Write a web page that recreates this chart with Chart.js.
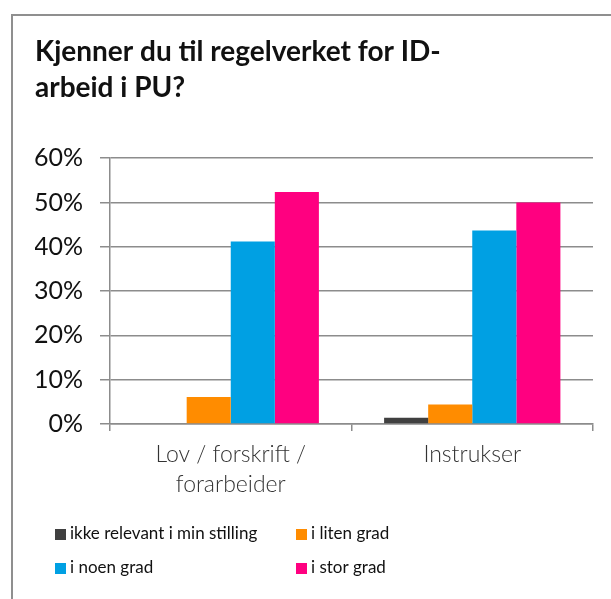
<!DOCTYPE html>
<html>
<head>
<meta charset="utf-8">
<script src="https://cdn.jsdelivr.net/npm/chart.js@4/dist/chart.umd.min.js"></script>
<style>
    html, body { margin: 0; padding: 0; background: #fff; overflow: hidden; }
    #frame { position: absolute; left: 11px; top: 14px; width: 700px; height: 700px;
             border-left: 2px solid #8f8f8f; border-top: 2px solid #8f8f8f; }
    #wrap { position: absolute; left: 0; top: 0; width: 611px; height: 599px; }
</style>
</head>
<body>
<div id="frame"></div>
<div id="wrap"><canvas id="chart" width="611" height="599"></canvas></div>
<script>
    const categories = [['Lov / forskrift /', 'forarbeider'], 'Instrukser'];
    const seriesNames = ['ikke relevant i min stilling', 'i liten grad', 'i noen grad', 'i stor grad'];
    const ikkeRelevant = [0, 1.4];
    const litenGrad = [6.1, 4.4];
    const noenGrad = [41.2, 43.7];
    const storGrad = [52.4, 50.0];
    const yTicks = [0, 10, 20, 30, 40, 50, 60];

    const colors = ['#404040', '#ff8c00', '#00a0e3', '#ff0080'];
    const gridColor = '#8c8c8c';
    const fontFamily = 'Lato, "Open Sans", sans-serif';

    // two-column legend under the plot, like the original
    const gridLegend = {
        id: 'gridLegend',
        afterDraw(chart){
            const ctx = chart.ctx;
            const area = chart.chartArea;
            const x0 = area.left - 55;
            const colW = 241;
            const rowY = [area.bottom + 110, area.bottom + 144];
            ctx.save();
            ctx.font = '17px ' + fontFamily;
            ctx.textBaseline = 'middle';
            chart.data.datasets.forEach((ds, i) => {
                const x = x0 + (i % 2) * colW;
                const y = rowY[Math.floor(i / 2)];
                ctx.fillStyle = ds.backgroundColor;
                ctx.fillRect(x, y - 5, 11, 11);
                ctx.fillStyle = '#111';
                ctx.fillText(ds.label, x + 15, y);
            });
            ctx.restore();
        }
    };

    const series = [ikkeRelevant, litenGrad, noenGrad, storGrad];

    new Chart(document.getElementById('chart'), {
        type: 'bar',
        data: {
            labels: categories,
            datasets: series.map((d, i) => ({
                label: seriesNames[i],
                data: d,
                backgroundColor: colors[i],
                categoryPercentage: 0.73,
                barPercentage: 1.0
            }))
        },
        options: {
            responsive: false,
            animation: false,
            layout: { padding: { left: 35, right: 18, top: 0, bottom: 95 } },
            plugins: {
                legend: { display: false },
                tooltip: { enabled: false },
                title: {
                    display: true,
                    text: ['Kjenner du til regelverket for ID-', 'arbeid i PU?'],
                    align: 'start',
                    color: '#111',
                    font: { family: fontFamily, size: 28, weight: 'bold', lineHeight: 1.29 },
                    padding: { top: 34, bottom: 52 }
                }
            },
            scales: {
                x: {
                    grid: {
                        offset: true,
                        drawOnChartArea: false,
                        drawTicks: true,
                        tickLength: 7,
                        color: gridColor,
                        lineWidth: 1.5
                    },
                    border: { color: gridColor, width: 1.5 },
                    ticks: {
                        color: '#333',
                        padding: 9,
                        maxRotation: 0,
                        font: { family: fontFamily, size: 23, weight: '300', lineHeight: 1.3 }
                    },
                    afterFit(s){ s.height = 80; }
                },
                y: {
                    min: 0,
                    max: 60,
                    afterBuildTicks(s){ s.ticks = yTicks.map(v => ({ value: v })); },
                    grid: {
                        color: gridColor,
                        lineWidth: 1.5,
                        tickLength: 10
                    },
                    border: { color: gridColor, width: 1.5 },
                    ticks: {
                        color: '#111',
                        padding: 17,
                        font: { family: fontFamily, size: 25 },
                        callback: v => v + '%'
                    },
                    afterFit(s){ s.width = 75; }
                }
            }
        },
        plugins: [gridLegend]
    });
</script>
</body>
</html>
